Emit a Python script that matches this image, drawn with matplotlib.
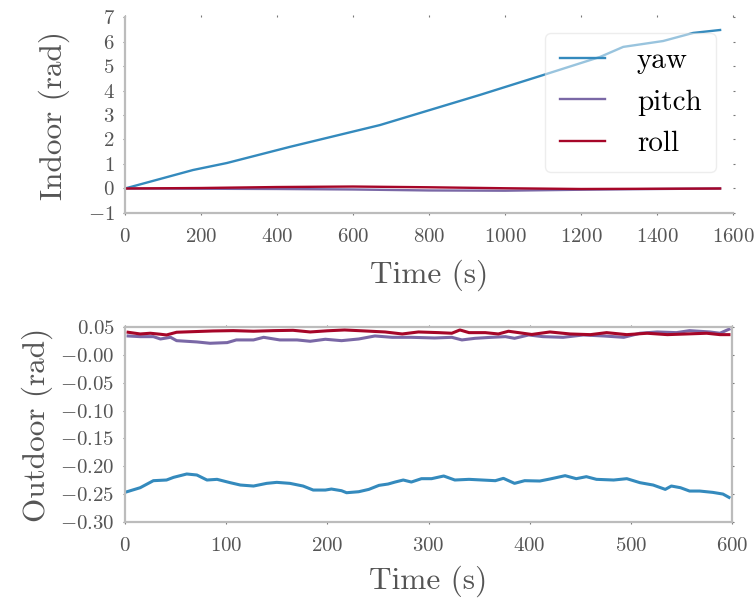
import numpy as np
import matplotlib
matplotlib.use("Agg")
import matplotlib.pyplot as plt

plt.rcParams['font.family'] = 'serif'
plt.rcParams['font.serif'] = ['cmr10']
plt.rcParams['mathtext.fontset'] = 'cm'
plt.rcParams['axes.formatter.use_mathtext'] = True
plt.rcParams['axes.unicode_minus'] = True

# colours (bmh-like palette)
BLUE = '#348ABD'
PURPLE = '#7A68A6'
RED = '#A60628'
GREY_TEXT = '#555555'
SPINE = '#bcbcbc'

# --- indoor run ---
indoor_t_yaw = [0, 179, 268, 434, 671, 934, 1092, 1250, 1311, 1416, 1495, 1566]
indoor_yaw = [0, 0.755, 1.04, 1.70, 2.59, 3.82, 4.59, 5.37, 5.78, 6.02, 6.35, 6.47]
indoor_t = [0, 200, 400, 600, 800, 1000, 1200, 1400, 1566]
indoor_pitch = [0, -0.01, -0.02, -0.04, -0.08, -0.09, -0.05, -0.02, 0.0]
indoor_roll = [0, 0.02, 0.06, 0.08, 0.05, 0.01, -0.02, -0.01, 0.0]

# --- outdoor run ---
out_t_yaw = [2, 15, 28, 41, 48, 61, 71, 81, 91, 104, 114, 127, 140, 150, 163,
             176, 186, 198, 204, 214, 219, 231, 241, 251, 260, 267, 275, 283,
             293, 303, 315, 326, 340, 353, 366, 374, 385, 395, 410, 420, 435,
             446, 456, 466, 483, 496, 509, 522, 534, 540, 549, 558, 568, 581,
             591, 597]
out_yaw = [-0.2456, -0.2384, -0.2258, -0.2246, -0.2198, -0.2138, -0.2156,
           -0.2246, -0.2234, -0.2294, -0.2336, -0.2354, -0.2306, -0.2288,
           -0.2306, -0.2354, -0.2426, -0.2426, -0.2408, -0.2438, -0.2474,
           -0.2456, -0.2414, -0.2342, -0.2318, -0.2282, -0.2246, -0.2282,
           -0.2222, -0.2222, -0.2174, -0.2246, -0.2234, -0.2246, -0.2258,
           -0.2216, -0.2306, -0.2258, -0.2264, -0.2228, -0.2168, -0.2222,
           -0.2186, -0.2234, -0.2246, -0.2222, -0.2294, -0.2336, -0.2414,
           -0.2354, -0.2384, -0.2444, -0.2444, -0.2468, -0.2498, -0.2558]

out_t_roll = [3, 15, 25, 35, 41, 51, 68, 87, 107, 127, 147, 166, 183, 200,
              217, 237, 257, 274, 290, 310, 323, 331, 340, 356, 369, 379, 389,
              402, 420, 440, 460, 476, 496, 516, 536, 555, 575, 588, 597]
out_roll = [0.0406, 0.0375, 0.0388, 0.0370, 0.0357, 0.0406, 0.0417, 0.0429,
            0.0435, 0.0424, 0.0435, 0.0441, 0.0411, 0.0432, 0.0447, 0.0429,
            0.0411, 0.0375, 0.0411, 0.0399, 0.0388, 0.0447, 0.0399, 0.0399,
            0.0375, 0.0424, 0.0399, 0.0366, 0.0411, 0.0375, 0.0363, 0.0399,
            0.0363, 0.0388, 0.0363, 0.0375, 0.0388, 0.0363, 0.0363]

out_t_pitch = [3, 15, 28, 35, 45, 51, 71, 84, 101, 110, 127, 137, 153, 170,
               183, 198, 214, 231, 247, 264, 283, 306, 323, 333, 346, 362,
               376, 385, 399, 413, 433, 453, 473, 493, 509, 526, 545, 558,
               578, 588, 597]
out_pitch = [0.0339, 0.0327, 0.0327, 0.0285, 0.0315, 0.0255, 0.0232, 0.0208,
             0.0220, 0.0268, 0.0268, 0.0315, 0.0268, 0.0268, 0.0244, 0.0280,
             0.0255, 0.0285, 0.0339, 0.0315, 0.0315, 0.0303, 0.0315, 0.0268,
             0.0297, 0.0315, 0.0327, 0.0297, 0.0357, 0.0327, 0.0315, 0.0357,
             0.0339, 0.0315, 0.0388, 0.0411, 0.0399, 0.0435, 0.0411, 0.0388,
             0.0460]

fig = plt.figure(figsize=(7.55, 6.01), dpi=100)
ax1 = fig.add_axes([0.1656, 0.6456, 0.8053, 0.3261])
ax2 = fig.add_axes([0.1656, 0.1314, 0.8040, 0.3245])

# top panel
ax1.plot(indoor_t_yaw, indoor_yaw, color=BLUE, lw=1.7, label='yaw')
ax1.plot(indoor_t, indoor_pitch, color=PURPLE, lw=1.7, label='pitch')
ax1.plot(indoor_t, indoor_roll, color=RED, lw=1.7, label='roll')
ax1.set_xlim(0, 1600)
ax1.set_ylim(-1, 7)
ax1.set_xticks(np.arange(0, 1601, 200))
ax1.set_yticks(np.arange(-1, 8, 1))
ax1.set_xlabel('Time (s)', fontsize=22.5, color=GREY_TEXT, labelpad=10)
ax1.set_ylabel('Indoor (rad)', fontsize=22.5, color=GREY_TEXT, labelpad=13)
for side in ['top', 'right']:
    ax1.spines[side].set_visible(False)
for side in ['left', 'bottom']:
    ax1.spines[side].set_color(SPINE)
    ax1.spines[side].set_linewidth(1.6)
leg = ax1.legend(loc='upper right', bbox_to_anchor=(0.972, 0.918),
                 borderaxespad=0, fontsize=21, frameon=True, fancybox=True,
                 framealpha=0.5, edgecolor='#dddddd', handlelength=1.55,
                 borderpad=0.5, labelspacing=0.52, handletextpad=1.1)
for line in leg.get_lines():
    line.set_linewidth(1.7)

# bottom panel
ax2.plot(out_t_yaw, out_yaw, color=BLUE, lw=2.2)
ax2.plot(out_t_pitch, out_pitch, color=PURPLE, lw=2.2)
ax2.plot(out_t_roll, out_roll, color=RED, lw=2.2)
ax2.set_xlim(0, 600)
ax2.set_ylim(-0.30, 0.05)
ax2.set_xticks(np.arange(0, 601, 100))
ax2.set_yticks(np.arange(-0.30, 0.051, 0.05))
ax2.yaxis.set_major_formatter(matplotlib.ticker.FormatStrFormatter(r'$%.2f$'))
ax2.set_xlabel('Time (s)', fontsize=22.5, color=GREY_TEXT, labelpad=8)
ax2.set_ylabel('Outdoor (rad)', fontsize=22.5, color=GREY_TEXT, labelpad=5)
for side in ['left', 'bottom', 'top', 'right']:
    ax2.spines[side].set_color(SPINE)
    ax2.spines[side].set_linewidth(1.6)

for ax in (ax1, ax2):
    ax.tick_params(axis='both', which='both', labelsize=15, labelcolor=GREY_TEXT,
                   length=1.5, width=0.8, color='#777777', pad=6,
                   top=True, right=True, direction='out')
    ax.tick_params(axis='x', pad=9)

fig.savefig('out.png', dpi=100)
